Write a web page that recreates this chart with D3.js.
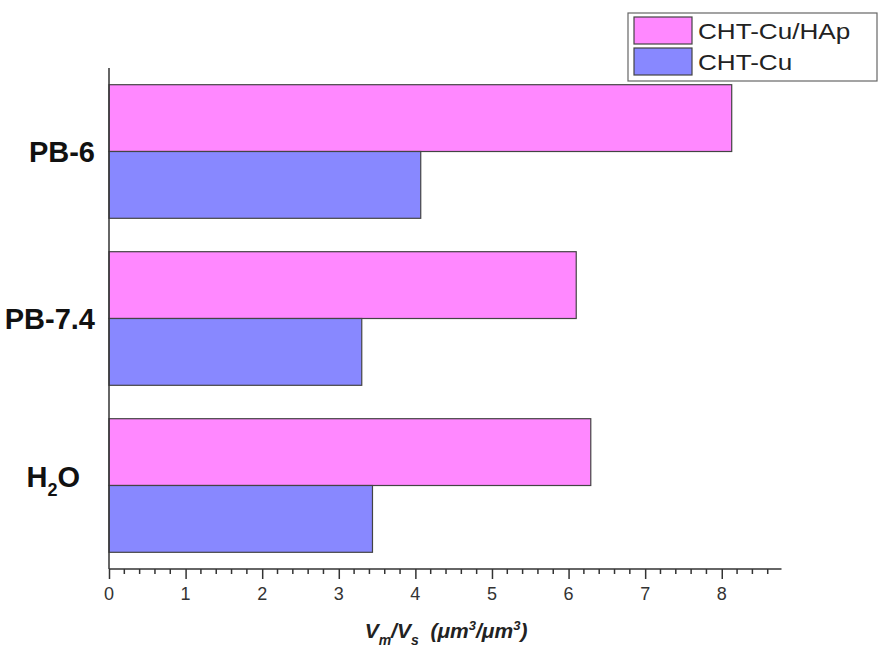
<!DOCTYPE html>
<html><head><meta charset="utf-8">
<script src="https://cdn.jsdelivr.net/npm/d3@7"></script>
<style>
body{margin:0;background:#fff;}
svg{display:block;font-family:"Liberation Sans",Arial,sans-serif;}
</style></head>
<body>
<script>
const categories = ["PB-6", "PB-7.4", "H2O"];
const seriesNames = ["CHT-Cu/HAp", "CHT-Cu"];
const chtCuHAp = [8.13, 6.10, 6.29];
const chtCu = [4.07, 3.30, 3.44];
const seriesColors = ["#ff88ff", "#8888ff"];
const xTicks = [0, 1, 2, 3, 4, 5, 6, 7, 8];

const W = 880, H = 650;
const svg = d3.select("body").append("svg").attr("width", W).attr("height", H);

const x = d3.scaleLinear().domain([0, 8.78]).range([109, 781.5]);
const y = d3.scaleBand().domain(categories).range([68, 569]).paddingInner(0.2).paddingOuter(0.1);
const ySub = d3.scaleBand().domain(seriesNames).range([0, y.bandwidth()]);

const series = [chtCuHAp, chtCu];
const g = svg.append("g");
categories.forEach((c, i) => {
  series.forEach((s, j) => {
    g.append("rect")
      .attr("x", x(0))
      .attr("y", y(c) + ySub(seriesNames[j]))
      .attr("width", x(s[i]) - x(0))
      .attr("height", ySub.bandwidth())
      .attr("fill", seriesColors[j])
      .attr("stroke", "#444")
      .attr("stroke-width", 1.2);
  });
});

// X axis minor ticks
const minor = d3.range(0, 8.61, 0.2).filter(v => Math.abs(v - Math.round(v)) > 0.01);
svg.append("g").selectAll("line").data(minor).enter().append("line")
  .attr("x1", d => x(d)).attr("x2", d => x(d))
  .attr("y1", 569).attr("y2", 574)
  .attr("stroke", "#333").attr("stroke-width", 1.5);

const xAxis = d3.axisBottom(x).tickValues(xTicks).tickFormat(() => "").tickSize(10);
const xg = svg.append("g").attr("transform", "translate(0,569)").call(xAxis);
xg.select(".domain").remove();
xg.selectAll(".tick line").attr("stroke", "#333").attr("stroke-width", 1.5);
xg.selectAll(".tick text").remove();

// tick labels
svg.append("g").selectAll("text").data(xTicks).enter().append("text")
  .attr("x", d => x(d)).attr("y", 600)
  .attr("text-anchor", "middle")
  .attr("font-size", 18).attr("fill", "#333")
  .text(d => d);

// axis lines
svg.append("line").attr("x1", x(0)).attr("x2", x.range()[1]).attr("y1", 569).attr("y2", 569)
  .attr("stroke", "#333").attr("stroke-width", 1.5);
svg.append("line").attr("x1", x(0)).attr("x2", x(0)).attr("y1", 68).attr("y2", 569)
  .attr("stroke", "#333").attr("stroke-width", 1.5);

// Category labels
categories.forEach(c => {
  const cy = y(c) + y.bandwidth() / 2;
  if (c === "H2O") {
    const t = svg.append("text").attr("x", 80).attr("y", cy + 1)
      .attr("text-anchor", "end").attr("font-size", 29).attr("font-weight", "bold").attr("fill", "#111");
    t.append("tspan").text("H");
    t.append("tspan").attr("font-size", 18).attr("dy", 9).text("2");
    t.append("tspan").attr("dy", -9).text("O");
  } else {
    svg.append("text").attr("x", 95).attr("y", cy + 10)
      .attr("text-anchor", "end").attr("font-size", 29).attr("font-weight", "bold").attr("fill", "#111")
      .text(c);
  }
});

// X axis title
const tt = svg.append("text").attr("x", 446).attr("y", 638).attr("text-anchor", "middle")
  .attr("font-size", 21).attr("font-style", "italic").attr("font-weight", "bold").attr("fill", "#222");
tt.append("tspan").text("V");
tt.append("tspan").attr("font-size", 14).attr("dy", 7).text("m");
tt.append("tspan").attr("dy", -7).text("/V");
tt.append("tspan").attr("font-size", 14).attr("dy", 7).text("s");
tt.append("tspan").attr("dy", -7).text("\u00a0\u00a0(\u03bcm");
tt.append("tspan").attr("font-size", 13).attr("dy", -8).text("3");
tt.append("tspan").attr("dy", 8).text("/\u03bcm");
tt.append("tspan").attr("font-size", 13).attr("dy", -8).text("3");
tt.append("tspan").attr("dy", 8).text(")");

// Legend
const lg = svg.append("g");
lg.append("rect").attr("x", 628).attr("y", 13).attr("width", 249).attr("height", 68)
  .attr("fill", "#fff").attr("stroke", "#666").attr("stroke-width", 1.2);
seriesNames.forEach((n, i) => {
  const top = 17 + i * 31;
  lg.append("rect").attr("x", 634).attr("y", top).attr("width", 58).attr("height", 27)
    .attr("fill", seriesColors[i]).attr("stroke", "#444").attr("stroke-width", 1.2);
  lg.append("text").attr("transform", `translate(698,${top + 22}) scale(1.16,1)`)
    .attr("font-size", 22.5).attr("fill", "#222").text(n);
});
</script>
</body></html>
